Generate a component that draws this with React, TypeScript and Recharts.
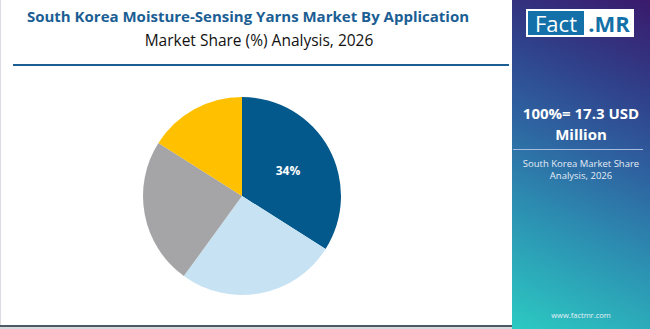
import { Cell, Pie, PieChart } from "recharts";

const segments = ["Segment A", "Segment B", "Segment C", "Segment D"];
const shares = [34, 26, 24, 16];
const colors = ["#03588C", "#C7E3F3", "#A5A5A7", "#FFC000"];
const shownLabels = ["34%", "", "", ""];

const chartData = segments.map((name, i) => ({ name, value: shares[i], label: shownLabels[i] }));

const RADIAN = Math.PI / 180;

function renderLabel(props: any) {
  const { cx, cy, midAngle, outerRadius, index } = props;
  const text = chartData[index].label;
  if (!text) return null;
  const r = outerRadius * 0.53;
  const x = cx + r * Math.cos(-midAngle * RADIAN);
  const y = cy + r * Math.sin(-midAngle * RADIAN);
  return (
    <text
      x={x}
      y={y}
      fill="#ffffff"
      textAnchor="middle"
      dominantBaseline="central"
      style={{ fontFamily: "Open Sans", fontWeight: 700, fontSize: 12 }}
    >
      {text}
    </text>
  );
}

export default function App() {
  return (
    <div
      style={{
        position: "absolute",
        left: 0,
        top: 0,
        width: 650,
        height: 329,
        background: "#ffffff",
        overflow: "hidden",
        fontFamily: "Open Sans",
      }}
    >
      <div style={{ position: "absolute", left: 0, top: 0, width: 1, height: 329, background: "#d9dde2" }} />
      <div
        style={{
          position: "absolute",
          left: 0,
          width: 496,
          top: 6,
          textAlign: "center",
          color: "#1B5E94",
          fontWeight: 700,
          fontSize: 15,
          whiteSpace: "nowrap",
        }}
      >
        South Korea Moisture-Sensing Yarns Market By Application
      </div>
      <div
        style={{
          position: "absolute",
          left: 0,
          width: 518,
          top: 29,
          textAlign: "center",
          color: "#111111",
          fontSize: 15.5,
          whiteSpace: "nowrap",
        }}
      >
        Market Share (%) Analysis, 2026
      </div>
      <div style={{ position: "absolute", left: 13, top: 64, width: 496, height: 2, background: "#1B5E94" }} />

      <div style={{ position: "absolute", left: 0, top: 0 }}>
        <PieChart width={510} height={329}>
          <Pie
            data={chartData}
            dataKey="value"
            nameKey="name"
            cx={237}
            cy={191}
            outerRadius={99}
            startAngle={90}
            endAngle={-270}
            stroke="none"
            labelLine={false}
            label={renderLabel}
            isAnimationActive={false}
          >
            {chartData.map((d, i) => (
              <Cell key={d.name} fill={colors[i]} />
            ))}
          </Pie>
        </PieChart>
      </div>

      <div style={{ position: "absolute", left: 0, top: 325, width: 512, height: 2, background: "#4d5a66" }} />
      <div style={{ position: "absolute", left: 0, top: 327, width: 650, height: 2, background: "#d6dadf" }} />

      <div
        style={{
          position: "absolute",
          left: 512,
          top: 0,
          width: 138,
          height: 329,
          background: "linear-gradient(205deg, #3a1a6c 0%, #30408a 25%, #2e62a0 45%, #2c8fb2 68%, #2ccac2 100%)",
          color: "#ffffff",
          textAlign: "center",
        }}
      >
        <div
          style={{
            position: "absolute",
            left: 14,
            top: 9,
            width: 108,
            height: 28,
            background: "#ffffff",
          }}
        >
          <div
            style={{
              position: "absolute",
              left: 2,
              top: 2,
              width: 56,
              height: 24,
              background: "#1470A8",
              color: "#ffffff",
              fontSize: 22,
              lineHeight: "24px",
              textAlign: "center",
            }}
          >
            Fact
          </div>
          <div
            style={{
              position: "absolute",
              left: 58,
              top: 2,
              width: 50,
              height: 24,
              color: "#1470A8",
              fontWeight: 700,
              fontSize: 22,
              lineHeight: "24px",
              textAlign: "center",
            }}
          >
            .MR
          </div>
        </div>
        <div
          style={{
            position: "absolute",
            left: 0,
            width: 138,
            top: 103,
            fontWeight: 700,
            fontSize: 15,
            lineHeight: "21px",
          }}
        >
          100%= 17.3 USD
          <br />
          Million
        </div>
        <div style={{ position: "absolute", left: 1, top: 149, width: 130, height: 1, background: "#a9bde0" }} />
        <div
          style={{
            position: "absolute",
            left: 0,
            width: 138,
            top: 158,
            fontSize: 9.5,
            lineHeight: "12px",
            color: "#e4ecf6",
          }}
        >
          South Korea Market Share
          <br />
          Analysis, 2026
        </div>
        <div
          style={{
            position: "absolute",
            left: 0,
            width: 138,
            top: 310,
            fontSize: 7.5,
            color: "#e8f0f8",
          }}
        >
          www.factmr.com
        </div>
      </div>
    </div>
  );
}
